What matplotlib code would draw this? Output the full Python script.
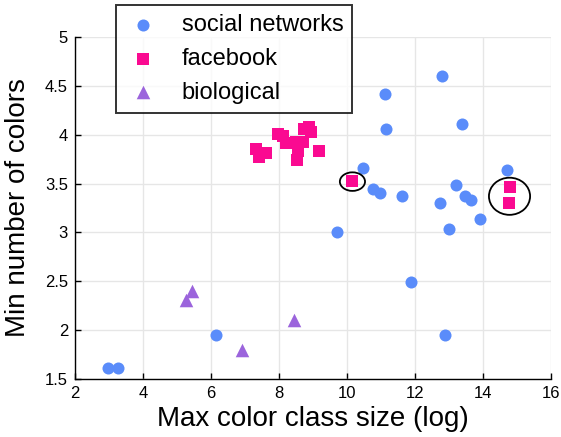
import matplotlib
matplotlib.use("Agg")
from matplotlib import pyplot as plt
from matplotlib.patches import Ellipse

plt.rcParams["font.family"] = ["Liberation Sans", "DejaVu Sans"]

# ── data ────────────────────────────────────────────────────────────────────
social_x = [12.78, 11.12, 11.14, 13.39, 10.46, 10.76, 10.97, 11.61, 13.21, 13.48,
            13.65, 12.74, 14.70, 13.91, 13.00, 9.71, 11.88, 12.89, 6.16, 2.96, 3.27]
social_y = [4.60, 4.42, 4.06, 4.11, 3.66, 3.44, 3.40, 3.37, 3.49, 3.37,
            3.33, 3.30, 3.64, 3.14, 3.04, 3.00, 2.49, 1.95, 1.95, 1.61, 1.61]

fb_x = [7.32, 7.40, 7.62, 7.96, 8.13, 8.21, 8.50, 8.71, 8.57, 8.52,
        8.74, 8.89, 8.93, 9.17, 10.16, 14.79, 14.76]
fb_y = [3.85, 3.77, 3.81, 4.01, 3.99, 3.92, 3.93, 3.93, 3.83, 3.74,
        4.06, 4.08, 4.03, 3.83, 3.53, 3.47, 3.30]

bio_x = [5.45, 5.26, 6.90, 8.44]
bio_y = [2.40, 2.31, 1.80, 2.10]

# highlighted facebook points: (center x, center y, width, height)
circles = [(10.16, 3.52, 0.74, 0.19), (14.78, 3.37, 1.21, 0.38)]

x_ticks = [2, 4, 6, 8, 10, 12, 14, 16]
y_ticks = [1.5, 2, 2.5, 3, 3.5, 4, 4.5, 5]

# ── plot ───────────────────────────────────────────────────────────────────
fig = plt.figure(figsize=(5.61, 4.37), dpi=100)
ax = fig.add_axes([75 / 561, 1 - 379 / 437, 476 / 561, 342 / 437])

ax.scatter(social_x, social_y, s=75, marker="o", color="#5a8cfa",
           linewidths=0, label="social networks", zorder=3)
ax.scatter(fb_x, fb_y, s=75, marker="s", color="#fa0a91",
           linewidths=0, label="facebook", zorder=3)
ax.scatter(bio_x, bio_y, s=95, marker="^", color="#9b64dc",
           linewidths=0, label="biological", zorder=3)

for cx, cy, w, h in circles:
    ax.add_patch(Ellipse((cx, cy), w, h, fill=False, edgecolor="black",
                         linewidth=1.3, zorder=4))

ax.set_xlim(2, 16)
ax.set_ylim(1.5, 5)
ax.set_xticks(x_ticks)
ax.set_yticks(y_ticks)
ax.set_xticklabels([str(t) for t in x_ticks])
ax.set_yticklabels([f"{t:g}" for t in y_ticks])
ax.grid(True, color="#e6e6e6", linewidth=1)
ax.set_axisbelow(True)
for side in ["top", "right"]:
    ax.spines[side].set_visible(False)
for side in ["left", "bottom"]:
    ax.spines[side].set_color("black")
    ax.spines[side].set_linewidth(1)
ax.tick_params(direction="in", length=4, width=1, labelsize=12, pad=5)

ax.set_xlabel("Max color class size (log)", fontsize=20, labelpad=4)
ax.set_ylabel("Min number of colors", fontsize=20, labelpad=10)

leg = fig.legend(loc="upper left", bbox_to_anchor=(116 / 561, 1 - 5 / 437),
                 fontsize=17, frameon=True, fancybox=False, borderaxespad=0,
                 borderpad=0.38, labelspacing=0.5, handletextpad=0.85,
                 handlelength=1.55)
leg.get_frame().set_edgecolor("black")
leg.get_frame().set_linewidth(1.4)

fig.savefig("out.png", dpi=100)
